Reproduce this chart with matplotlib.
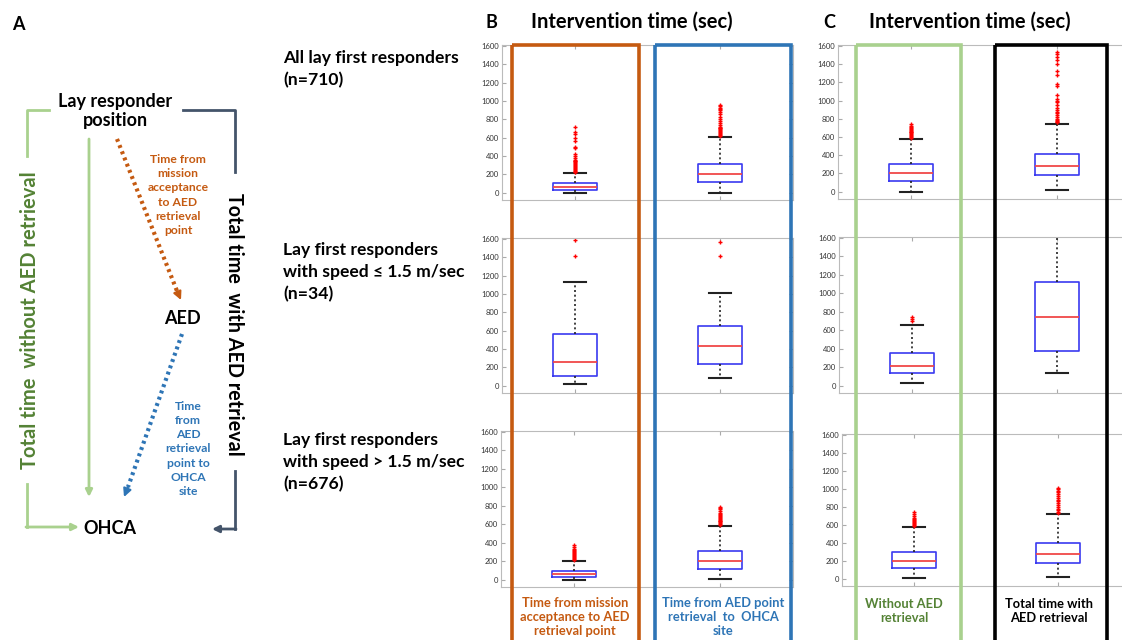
import matplotlib.pyplot as plt
from matplotlib.patches import Rectangle

W, H = 1122, 640

# box statistics (seconds)
ROWS = ['all', 'slow', 'fast']
ROW_LABELS = ['All lay first responders\n(n=710)',
              'Lay first responders\nwith speed \u2264 1.5 m/sec\n(n=34)',
              'Lay first responders\nwith speed > 1.5 m/sec\n(n=676)']

# B: to AED point, AED point to OHCA
B_Q1 = [[26, 120], [105, 239], [32, 119]]
B_MED = [[59, 203], [261, 434], [58, 202]]
B_Q3 = [[102, 316], [565, 648], [97, 307]]
B_LO = [[0, 0], [18, 80], [0, 7]]
B_HI = [[211, 610], [1133, 1010], [206, 578]]
B_FLIERS = [
    [[220, 230, 240, 250, 260, 270, 280, 290, 300, 310, 320, 330, 340, 350, 360, 375,
      400, 420, 490, 500, 560, 600, 640, 660, 720],
     [620, 630, 640, 650, 660, 670, 680, 690, 700, 710, 720, 740, 760, 780, 800, 820,
      860, 880, 900, 910, 920, 940, 960]],
    [[1412, 1590], [1410, 1565]],
    [[215, 225, 235, 245, 255, 265, 275, 285, 295, 305, 320, 335, 350, 370],
     [590, 600, 610, 620, 630, 640, 650, 660, 670, 680, 690, 700, 710, 720, 740, 760, 775, 790]],
]

# C: without AED retrieval, total with AED retrieval
C_Q1 = [[119, 184], [133, 373], [121, 180]]
C_MED = [[202, 278], [214, 746], [202, 272]]
C_Q3 = [[307, 415], [355, 1127], [301, 396]]
C_LO = [[0, 22], [33, 140], [4, 18]]
C_HI = [[581, 748], [658, 1620], [576, 719]]
C_FLIERS = [
    [[590, 600, 610, 620, 630, 640, 650, 660, 670, 680, 690, 700, 710, 720, 740],
     [760, 770, 780, 790, 800, 820, 840, 860, 880, 900, 920, 950, 980, 1000, 1020, 1060,
      1160, 1180, 1280, 1330, 1400, 1440, 1480, 1510, 1530]],
    [[700, 720, 740], []],
    [[590, 600, 610, 620, 630, 640, 650, 660, 680, 700, 720, 740],
     [730, 740, 760, 780, 800, 820, 840, 860, 880, 900, 920, 940, 960, 980, 1000, 1010]],
]

Y_TICKS = [0, 200, 400, 600, 800, 1000, 1200, 1400, 1600]

ORANGE = '#C55A11'
BLUE = '#2E75B6'
LGREEN = '#A9D18E'
DGREEN = '#548235'
NAVY = '#44546A'

plt.rcParams['font.family'] = ['Lato', 'DejaVu Sans']


def px_axes(fig, left, right, top, bottom):
    return fig.add_axes([left / W, 1 - bottom / H, (right - left) / W, (bottom - top) / H])


def draw_boxes(ax, q1, med, q3, lo, hi, fliers):
    stats = []
    for i in range(2):
        stats.append({'q1': q1[i], 'med': med[i], 'q3': q3[i], 'whislo': lo[i],
                      'whishi': hi[i], 'fliers': fliers[i]})
    ax.bxp(stats, positions=[1, 2], widths=0.3, capwidths=0.15, showfliers=True,
           boxprops=dict(color='#3A3AF0', lw=1.2),
           medianprops=dict(color='#F04848', lw=1.3),
           whiskerprops=dict(color='#222222', lw=1.2, ls=(0, (1.2, 1.6))),
           capprops=dict(color='#222222', lw=1.5),
           flierprops=dict(marker='+', markeredgecolor='red', markersize=2.5, mew=1.0))
    ax.set_xlim(0.5, 2.5)
    ax.set_ylim(-80, 1610)
    ax.set_yticks(Y_TICKS)
    ax.set_xticks([1, 2])
    ax.set_xticklabels([])
    ax.tick_params(direction='in', length=3, color='#AAAAAA', top=True, right=True,
                   labelsize=5.5, labelcolor='#333333', pad=2)
    for s in ax.spines.values():
        s.set_color('#BBBBBB')


fig = plt.figure(figsize=(W / 100, H / 100), dpi=100)

b_frames = [(502, 793, 45, 200), (502, 793, 238, 393), (501, 793, 431, 587)]
c_frames = [(838, 1130, 45, 199), (839, 1130, 237, 393), (842, 1130, 434, 586)]
for r in range(3):
    ax = px_axes(fig, *b_frames[r])
    draw_boxes(ax, B_Q1[r], B_MED[r], B_Q3[r], B_LO[r], B_HI[r], B_FLIERS[r])
    ax = px_axes(fig, *c_frames[r])
    draw_boxes(ax, C_Q1[r], C_MED[r], C_Q3[r], C_LO[r], C_HI[r], C_FLIERS[r])

# overlay in pixel coordinates for diagram, labels and frames
ov = fig.add_axes([0, 0, 1, 1], zorder=10)
ov.set_xlim(0, W)
ov.set_ylim(H, 0)
ov.axis('off')
ov.patch.set_alpha(0)

# column frames
for x0, x1, col in [(512, 639, ORANGE), (655, 791, BLUE), (856, 961, LGREEN), (995, 1107, 'black')]:
    ov.add_patch(Rectangle((x0, 45), x1 - x0, 620, fill=False, ec=col, lw=2.6, clip_on=False))

# panel titles
ov.text(18, 24, 'A', fontsize=13, fontweight='bold', ha='center', va='center')
ov.text(491, 22, 'B', fontsize=13, fontweight='bold', ha='center', va='center')
ov.text(632, 22, 'Intervention time (sec)', fontsize=14.5, fontweight='bold', ha='center', va='center')
ov.text(829, 22, 'C', fontsize=13, fontweight='bold', ha='center', va='center')
ov.text(970, 22, 'Intervention time (sec)', fontsize=14.5, fontweight='bold', ha='center', va='center')

# row labels
for y, lab in zip([69, 272, 462], ROW_LABELS):
    ov.text(283, y, lab, fontsize=12.6, fontweight='bold', ha='left', va='center', linespacing=1.45)

# column labels
ov.text(575, 617, 'Time from mission\nacceptance to AED\nretrieval point', fontsize=9.3,
        fontweight='bold', color=ORANGE, ha='center', va='center', linespacing=1.2)
ov.text(723, 617, 'Time from AED point\nretrieval  to  OHCA\nsite', fontsize=9.3,
        fontweight='bold', color=BLUE, ha='center', va='center', linespacing=1.2)
ov.text(904, 611, 'Without AED\nretrieval', fontsize=9.3, fontweight='bold', color=DGREEN,
        ha='center', va='center', linespacing=1.25)
ov.text(1049, 611, 'Total time with\nAED retrieval', fontsize=9.3, fontweight='bold',
        color='black', ha='center', va='center', linespacing=1.25)

# panel A diagram
ov.text(115, 111, 'Lay responder\nposition', fontsize=13, fontweight='bold', ha='center',
        va='center', linespacing=1.2)
ov.text(182, 319, 'AED', fontsize=13, fontweight='bold', ha='center', va='center')
ov.text(110, 528, 'OHCA', fontsize=13, fontweight='bold', ha='center', va='center')

ov.plot([49, 27, 27], [110, 110, 156], color=LGREEN, lw=2)
ov.plot([27, 27], [484, 527], color=LGREEN, lw=2)
ov.annotate('', xy=(79, 527), xytext=(26, 527),
            arrowprops=dict(arrowstyle='-|>', color=LGREEN, lw=2, shrinkA=0, shrinkB=0))
ov.annotate('', xy=(89, 497), xytext=(89, 139),
            arrowprops=dict(arrowstyle='-|>', color=LGREEN, lw=2, shrinkA=0, shrinkB=0))
ov.text(30, 320, 'Total time  without AED retrieval', fontsize=14.5, fontweight='bold',
        color=DGREEN, rotation=90, ha='center', va='center')

ov.plot([183, 235, 235], [110, 110, 172], color=NAVY, lw=2)
ov.plot([235, 235], [471, 529], color=NAVY, lw=2)
ov.annotate('', xy=(212, 529), xytext=(236, 529),
            arrowprops=dict(arrowstyle='-|>', color=NAVY, lw=2, shrinkA=0, shrinkB=0))
ov.text(234, 324, 'Total time  with AED retrieval', fontsize=14.2, fontweight='bold',
        color='black', rotation=-90, ha='center', va='center')

ov.plot([117, 177], [139, 291], color=ORANGE, lw=3, ls=(0, (0.7, 0.9)))
ov.annotate('', xy=(181, 300), xytext=(177, 291),
            arrowprops=dict(arrowstyle='-|>', color=ORANGE, lw=1.5, shrinkA=0, shrinkB=0,
                            mutation_scale=12))
ov.text(178, 195, 'Time from\nmission\nacceptance\nto AED\nretrieval\npoint', fontsize=8.7,
        fontweight='bold', color=ORANGE, ha='center', va='center', linespacing=1.35)

ov.plot([182, 128], [334, 487], color=BLUE, lw=3, ls=(0, (0.7, 0.9)))
ov.annotate('', xy=(124, 497), xytext=(128, 487),
            arrowprops=dict(arrowstyle='-|>', color=BLUE, lw=1.5, shrinkA=0, shrinkB=0,
                            mutation_scale=12))
ov.text(188, 449, 'Time\nfrom\nAED\nretrieval\npoint to\nOHCA\nsite', fontsize=8.7,
        fontweight='bold', color=BLUE, ha='center', va='center', linespacing=1.35)

fig.savefig('out.png', dpi=100)
